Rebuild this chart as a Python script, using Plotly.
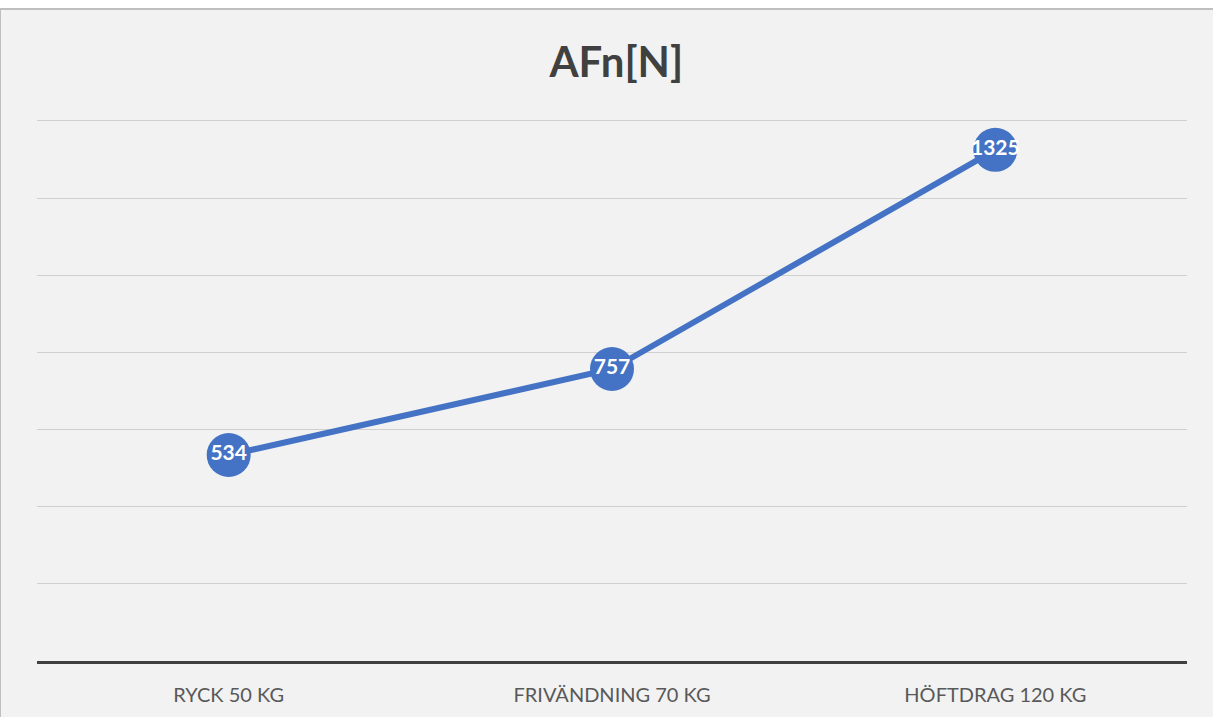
import plotly.graph_objects as go

# Peak force per lift
categories = ["RYCK 50 KG", "FRIVÄNDNING 70 KG", "HÖFTDRAG 120 KG"]
afn_values = [534, 757, 1325]
y_gridlines = [0, 200, 400, 600, 800, 1000, 1200, 1400]

W, H = 1213, 717
BLUE = "#4472c4"
FONT = "Lato, 'Open Sans', sans-serif"

fig = go.Figure()

fig.add_trace(go.Scatter(
    x=categories,
    y=afn_values,
    mode="lines+markers+text",
    line=dict(color=BLUE, width=6),
    marker=dict(size=44, color=BLUE, line=dict(width=0)),
    text=[str(v) for v in afn_values],
    textposition="middle center",
    textfont=dict(family=FONT, size=21, color="white", weight="bold"),
    cliponaxis=False,
    hoverinfo="skip",
))

# Chart-area frame: light panel with gray top/left edges
fig.add_shape(type="rect", xref="paper", yref="paper",
              x0=-37 / 1150, x1=1.5, y0=-1, y1=(661 - 9) / 542,
              fillcolor="#f2f2f2", line=dict(color="#bfbfbf", width=2),
              layer="below")

fig.update_layout(
    width=W, height=H,
    paper_bgcolor="white",
    plot_bgcolor="rgba(0,0,0,0)",
    margin=dict(l=37, r=26, t=119, b=56),
    showlegend=False,
    title=dict(text="<b>AFn[N]</b>", x=611 / W, xref="paper", xanchor="center",
               y=1 - 62 / H, yref="container", yanchor="middle",
               font=dict(family=FONT, size=42, color="#404040")),
    xaxis=dict(
        type="category",
        range=[-0.5, 2.5],
        showgrid=False,
        showline=True, linecolor="#404040", linewidth=3,
        ticks="",
        tickfont=dict(family=FONT, size=20, color="#595959"),
        ticklabelstandoff=14,
        fixedrange=True,
    ),
    yaxis=dict(
        range=[0, 1405],
        tickvals=y_gridlines,
        showticklabels=False,
        showgrid=True, gridcolor="#d0d0d0", gridwidth=1,
        zeroline=False,
        showline=False,
        fixedrange=True,
    ),
)

fig.write_html("out.html")
